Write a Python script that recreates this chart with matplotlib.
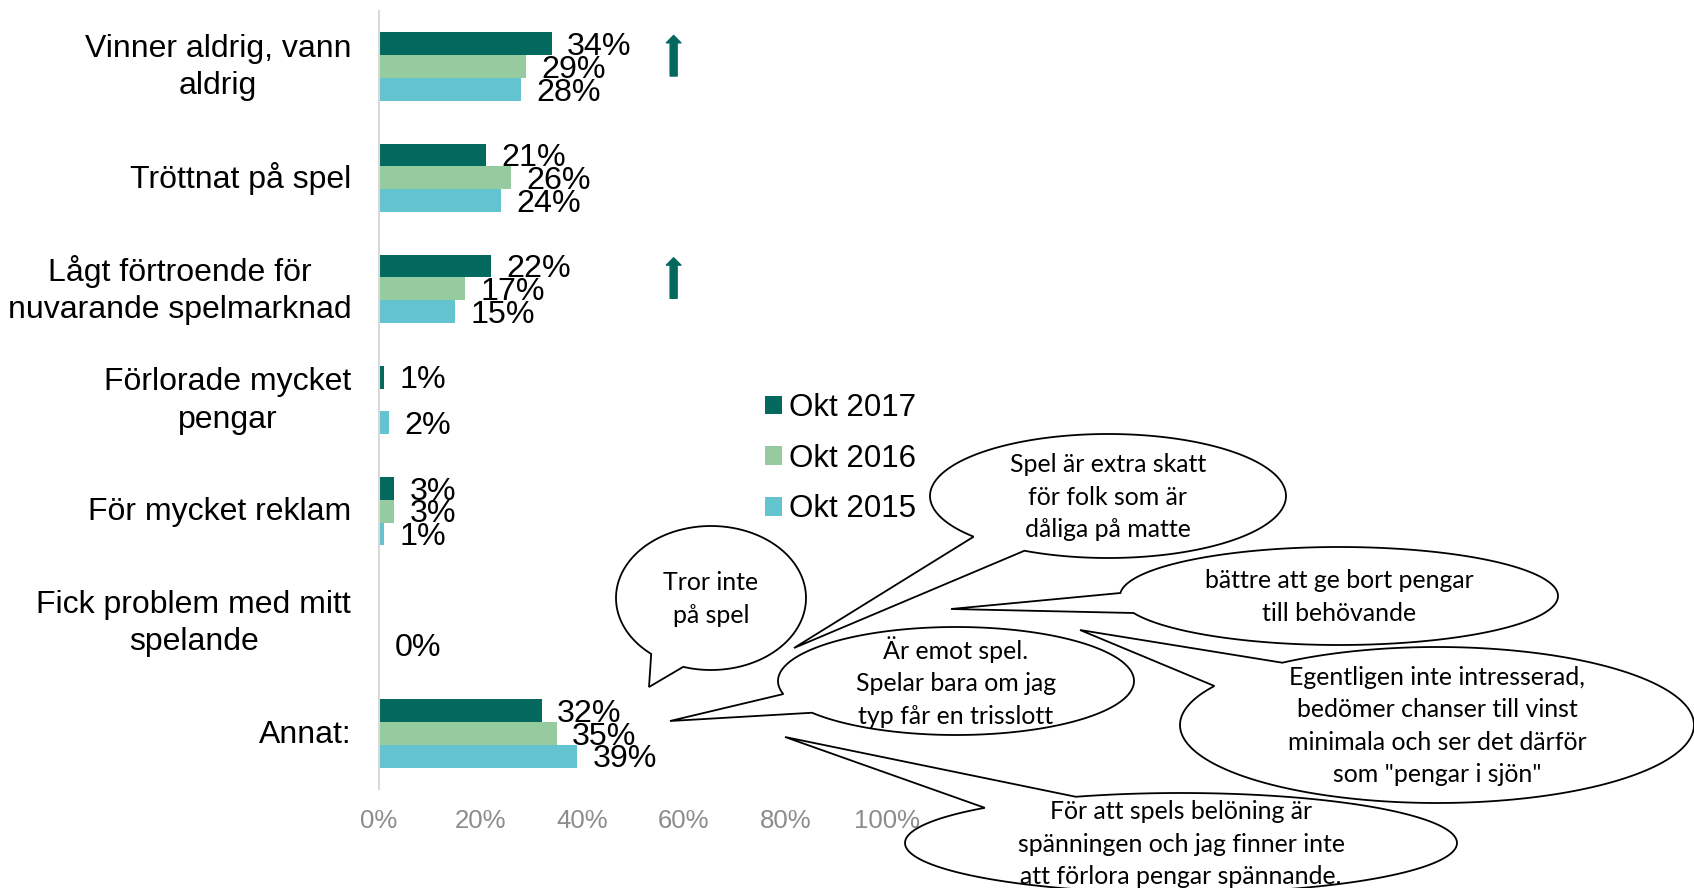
import numpy as np
import matplotlib.pyplot as plt
from matplotlib.patches import Patch, Polygon

plt.rcParams['font.family'] = ['Liberation Sans', 'DejaVu Sans']

# ---------------- data ----------------
categories = ["Vinner aldrig, vann\naldrig", "Tröttnat på spel",
              "Lågt förtroende för\nnuvarande spelmarknad",
              "Förlorade mycket\npengar", "För mycket reklam",
              "Fick problem med mitt\nspelande", "Annat:"]
series_names = ["Okt 2017", "Okt 2016", "Okt 2015"]
okt2017 = [0.34, 0.21, 0.22, 0.01, 0.03, np.nan, 0.32]
okt2016 = [0.29, 0.26, 0.17, np.nan, 0.03, np.nan, 0.35]
okt2015 = [0.28, 0.24, 0.15, 0.02, 0.01, 0.00, 0.39]
up_arrow_categories = [0, 2]
xticks = [0, 0.2, 0.4, 0.6, 0.8, 1.0]
xtick_labels = ["0%", "20%", "40%", "60%", "80%", "100%"]
quotes = ["Tror inte\npå spel",
          "Spel är extra skatt\nför folk som är\ndåliga på matte",
          "bättre att ge bort pengar\ntill behövande",
          "Egentligen inte intresserad,\nbedömer chanser till vinst\nminimala och ser det därför\nsom \"pengar i sjön\"",
          "Är emot spel.\nSpelar bara om jag\ntyp får en trisslott",
          "För att spels belöning är\nspänningen och jag finner inte\natt förlora pengar spännande."]

# ---------------- style ----------------
colors = ["#03695F", "#95CB9E", "#63C4CF"]
W, H = 1694, 888
fig = plt.figure(figsize=(W / 100, H / 100), dpi=100)
ax = fig.add_axes([379 / W, 1 - 789 / H, (887 - 379) / W, (789 - 11) / H])

series = [okt2017, okt2016, okt2015]
y = np.arange(len(categories))
bh = 0.205
offsets = [-bh, 0, bh]
for vals, off, c in zip(series, offsets, colors):
    ax.barh(y + off, vals, height=bh, color=c, zorder=2)
    for yi, v in zip(y, vals):
        if np.isnan(v):
            continue
        ax.annotate(f"{round(v * 100)}%", xy=(v, yi + off), xytext=(11, -2.3),
                    textcoords='offset points', ha='left', va='center',
                    fontsize=23.2, color='black', zorder=3)

for ci in up_arrow_categories:
    ax.annotate('', xy=(0.58, ci - 0.28), xytext=(0.58, ci + 0.085),
                arrowprops=dict(arrowstyle='simple,head_length=0.38,head_width=0.75,tail_width=0.36',
                                mutation_scale=14, color=colors[0], shrinkA=0, shrinkB=0))

ax.set_xlim(0, 1)
ax.set_ylim(len(categories) - 0.5, -0.5)
ax.set_yticks(y)
ax.set_yticklabels([])
for yi, cat in zip(y, categories):
    ax.annotate(cat, xy=(0, yi), xycoords=('axes fraction', 'data'),
                xytext=(-20, -0.8), textcoords='offset points', ha='right', va='center',
                multialignment='center', linespacing=1.33, fontsize=23, color='black',
                annotation_clip=False)
ax.set_xticks(xticks)
ax.set_xticklabels(xtick_labels, fontsize=18.5, color='#8c8c8c')
ax.tick_params(axis='y', length=0, pad=20)
ax.tick_params(axis='x', length=0, pad=14.5)
for s in ['top', 'right', 'bottom']:
    ax.spines[s].set_visible(False)
ax.spines['left'].set_color('#d9d9d9')
ax.spines['left'].set_linewidth(1.5)

handles = [Patch(facecolor=c, edgecolor='none') for c in colors]
fig.legend(handles, series_names, loc='upper left', bbox_to_anchor=(765 / W, 1 - 393 / H),
           frameon=False, fontsize=22.5, handlelength=0.55, handleheight=0.55,
           handletextpad=0.22, labelspacing=0.66, borderpad=0, borderaxespad=0)

# ---------------- speech bubbles (figure pixel overlay) ----------------
ov = fig.add_axes([0, 0, 1, 1], zorder=5)
ov.set_xlim(0, W)
ov.set_ylim(H, 0)
ov.axis('off')
ov.patch.set_alpha(0)

# (cx, cy, rx, ry, base angle a, base angle b, tip x, tip y)
bubble_geom = [
    (711, 598, 95, 72, 129, 107, 649, 687),
    (1108, 496, 178, 62, 139, 118, 794, 648),
    (1339, 596, 219, 49, 183.5, 159.7, 951, 609),
    (1437, 725, 257, 78, 233, 210, 1080, 630),
    (956, 681, 178, 54, 166, 144, 670, 721),
    (1181, 843, 276, 50, 247.6, 224.7, 785, 737),
]
order = [1, 2, 3, 5, 4, 0]
for i in order:
    cx, cy, rx, ry, ta, tb, tx, ty = bubble_geom[i]
    d = (tb - ta) % 360
    if d < 180:
        a, b = tb, tb + (360 - d)
    else:
        a, b = ta, ta + d
    t = np.radians(np.linspace(a, b, 200))
    pts = np.column_stack([cx + rx * np.cos(t), cy + ry * np.sin(t)])
    pts = np.vstack([pts, [tx, ty]])
    ov.add_patch(Polygon(pts, closed=True, facecolor='white', edgecolor='black',
                         linewidth=1.3, clip_on=False))
    ov.text(cx, cy + 1, quotes[i], ha='center', va='center', multialignment='center',
            fontsize=17.9, family=['Lato', 'DejaVu Sans'], linespacing=1.5, color='black')

fig.savefig('out.png', dpi=100)
